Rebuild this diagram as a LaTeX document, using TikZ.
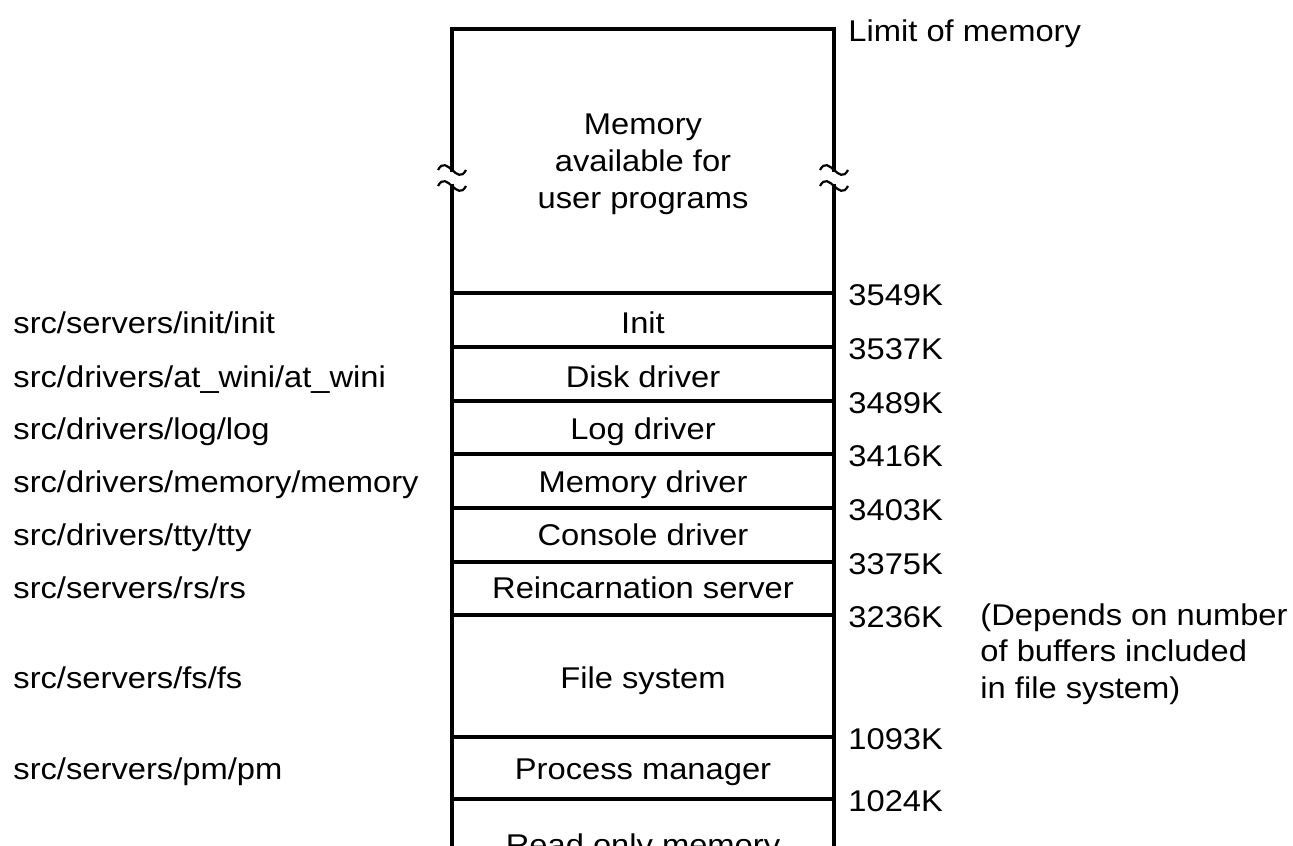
\documentclass[tikz,border=0pt]{standalone}
\usepackage{fontspec}
\setmainfont[FakeStretch=1.09]{Liberation Sans}
\usepackage{tikz}
\usetikzlibrary{positioning}

\tikzset{
  memtext/.style={font=\fontsize{15}{18.25}\selectfont, inner sep=0pt, anchor=base},
  srctext/.style={memtext, anchor=base west},
  addrtext/.style={memtext, anchor=base west},
  memline/.style={line width=1.7pt},
  breakmark/.style={line width=1.1pt},
}

\begin{document}
\begin{tikzpicture}[x=0.5pt, y=-0.5pt]
  \clip (0,0) rectangle (1293,845);
  % outline of the memory column, broken in the user area
  \draw[memline] (452,172) -- (452,29) -- (834,29) -- (834,172);
  \draw[memline] (452,184) -- (452,880);
  \draw[memline] (834,184) -- (834,880);
  \foreach \x in {452,834} {
    \foreach \y in {170,186} {
      \draw[breakmark] (\x-14,\y) .. controls (\x-5,\y-17) and (\x+5,\y+17) .. (\x+14,\y);
    }
  }
  \node[addrtext] (limit) at (848,42) {Limit of memory};
  % segment boundaries with their addresses
  \foreach \y/\v in {293/3549K, 347/3537K, 401/3489K, 454/3416K, 508/3403K,
                     562/3375K, 615/3236K, 737/1093K, 799/1024K} {
    \draw[memline] (452,\y) -- (834,\y);
    \node[addrtext] (addr\v) at (848,\y+12) {\v};
  }
  % base of a multi-line node is its last line
  \node[memtext, align=left, anchor=base west] (buffers) at (980,698)
    {(Depends on number\\of buffers included\\in file system)};
  % contents of each segment
  \node[memtext, align=center] (user) at (643,208) {Memory\\available for\\user programs};
  \node[memtext] (init) at (643,333) {Init};
  \node[memtext] (disk) at (643,387) {Disk driver};
  \node[memtext] (log) at (643,439) {Log driver};
  \node[memtext] (memdrv) at (643,492) {Memory driver};
  \node[memtext] (console) at (643,545) {Console driver};
  \node[memtext] (rs) at (643,598) {Reincarnation server};
  \node[memtext] (fs) at (643,688) {File system};
  \node[memtext] (pm) at (643,779) {Process manager};
  \node[memtext] (rom) at (643,855) {Read only memory};
  % source files of the boot image
  \node[srctext] (initsrc) at (13,333) {src/servers/init/init};
  \node[srctext] (disksrc) at (13,387) {src/drivers/at\_wini/at\_wini};
  \node[srctext] (logsrc) at (13,439) {src/drivers/log/log};
  \node[srctext] (memsrc) at (13,492) {src/drivers/memory/memory};
  \node[srctext] (ttysrc) at (13,545) {src/drivers/tty/tty};
  \node[srctext] (rssrc) at (13,598) {src/servers/rs/rs};
  \node[srctext] (fssrc) at (13,688) {src/servers/fs/fs};
  \node[srctext] (pmsrc) at (13,779) {src/servers/pm/pm};
\end{tikzpicture}
\end{document}
